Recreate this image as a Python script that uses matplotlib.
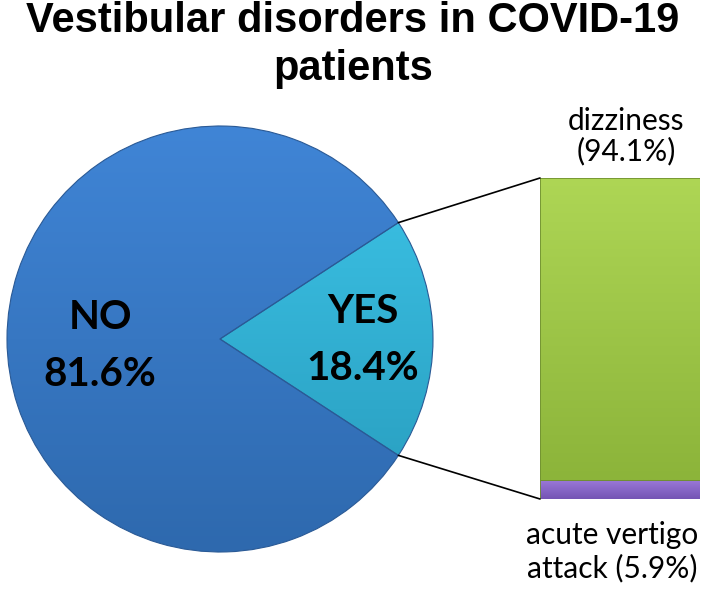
import matplotlib.pyplot as plt
import numpy as np
from matplotlib.patches import ConnectionPatch
from matplotlib.colors import LinearSegmentedColormap

title = "Vestibular disorders in COVID-19\npatients"
pie_labels = ["YES", "NO"]
pie_values = [18.4, 81.6]
bar_labels = ["acute vertigo\nattack (5.9%)", "dizziness\n(94.1%)"]
bar_values = [5.9, 94.1]

pie_colors = [("#3ec6ea", "#2699ba"), ("#4085d6", "#2e69ae")]
bar_colors = [("#9a78d8", "#7554b4"), ("#aed655", "#8cb43a")]


def gradient_fill(ax, patch, top, bottom, extent):
    cmap = LinearSegmentedColormap.from_list("g", [bottom, top])
    grad = np.linspace(0, 1, 256).reshape(-1, 1)
    im = ax.imshow(grad, cmap=cmap, extent=extent, origin="lower",
                   aspect="auto", zorder=patch.get_zorder() - 0.5)
    im.set_clip_path(patch)


fig = plt.figure(figsize=(7.06, 5.89), dpi=100)

fig.text(0.5, 0.998, title, ha="center", va="top", fontsize=30,
         fontweight="bold", family="Liberation Sans", linespacing=1.25)

# pie
ax = fig.add_axes([7 / 706, 37 / 589, 426 / 706, 426 / 589])
wedges, _ = ax.pie(pie_values, startangle=-pie_values[0] * 1.8,
                   colors=["none", "none"],
                   wedgeprops=dict(edgecolor="#2a5a96", linewidth=0.8))
ax.set_xlim(-1.0, 1.0)
ax.set_ylim(-1.0, 1.0)
for w, (top, bot) in zip(wedges, pie_colors):
    w.set_zorder(3)
    gradient_fill(ax, w, top, bot, [-1, 1, -1, 1])

lab_kw = dict(ha="center", va="center", fontsize=29, fontweight="bold",
              family="Lato", zorder=5)
ax.text(0.67, 0.13, pie_labels[0], **lab_kw)
ax.text(0.67, -0.14, f"{pie_values[0]}%", **lab_kw)
ax.text(-0.563, 0.10, pie_labels[1], **lab_kw)
ax.text(-0.563, -0.165, f"{pie_values[1]}%", **lab_kw)

# stacked bar
bx = fig.add_axes([540 / 706, 90 / 589, 160 / 706, 321 / 589])
bottom = 0
for v, (top, bot) in zip(bar_values, bar_colors):
    bars = bx.bar(0, v, width=1.0, bottom=bottom, color="none",
                  edgecolor="#6f8f30", linewidth=0.6, zorder=3)
    gradient_fill(bx, bars[0], top, bot, [-0.5, 0.5, bottom, bottom + v])
    bottom += v
bx.set_xlim(-0.5, 0.5)
bx.set_ylim(0, 100)
bx.axis("off")

bx.text(0.04, 104, bar_labels[1], ha="center", va="bottom", fontsize=21.5,
        family="Lato", linespacing=1.07)
bx.text(-0.05, -6.9, bar_labels[0], ha="center", va="top", fontsize=21.5,
        family="Lato", linespacing=1.18)

# connector lines from YES slice to bar
theta = np.deg2rad(pie_values[0] * 1.8)
for sgn, yb in [(1, 100), (-1, 0)]:
    con = ConnectionPatch(xyA=(np.cos(theta), sgn * np.sin(theta)),
                          coordsA=ax.transData,
                          xyB=(-0.5, yb), coordsB=bx.transData,
                          color="black", linewidth=1.2)
    fig.add_artist(con)

fig.savefig("out.png", dpi=100)
